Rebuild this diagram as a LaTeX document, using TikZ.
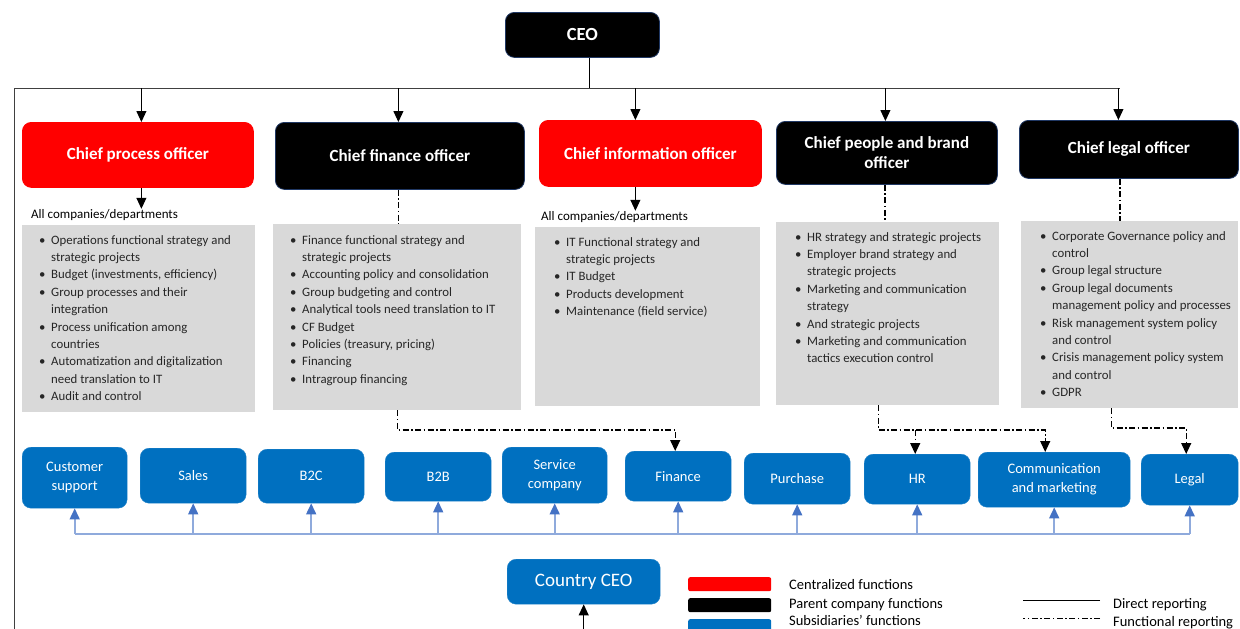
\documentclass[tikz,border=0pt]{standalone}
\usepackage{fontspec}
\setmainfont{Carlito}
\usepackage{xcolor}
\usepackage{tikz}
\usetikzlibrary{arrows.meta}
\usetikzlibrary{calc,positioning}
\definecolor{chiefRed}{RGB}{255,0,0}
\definecolor{subBlue}{RGB}{0,112,192}
\definecolor{listGrey}{RGB}{217,217,217}
\definecolor{edgeBlue}{RGB}{32,56,100}
\definecolor{upLine}{RGB}{143,170,220}
\definecolor{upHead}{RGB}{68,114,196}
\newcommand{\bul}{\makebox[12pt][l]{\textbullet}}
\newcommand{\cnt}{\hspace*{12pt}}
\tikzset{%
  >={Triangle[width=10pt,length=11pt]},
  % Specifications for style of nodes:
  base/.style = {rectangle, rounded corners=9pt, anchor=north west,
    text centered, align=center, inner sep=2pt},
  chief/.style = {base, draw=edgeBlue, fill=black, text=white, line width=0.8pt,
    font=\fontsize{17}{20}\selectfont\bfseries},
  central/.style = {chief, draw=chiefRed, fill=chiefRed},
  subsid/.style = {base, fill=subBlue, draw=subBlue!85!white, text=white,
    font=\fontsize{14.5}{19}\selectfont},
  tasks/.style = {rectangle, fill=listGrey, anchor=north west},
  taskText/.style = {anchor=north west, align=left, inner sep=0pt,
    font=\fontsize{12.8}{17.4}\selectfont, text=black!85},
  allText/.style = {anchor=base west, inner sep=0pt, font=\fontsize{13}{15}\selectfont},
  % Specifications for style of lines:
  direct/.style = {line width=1pt},
  functional/.style = {line width=1.2pt, dash pattern=on 6pt off 2.5pt on 1.5pt off 2.5pt},
  upArrow/.style = {draw=upLine, line width=1.6pt,
    -{Triangle[width=10pt,length=11pt,color=upHead]}},
  swatch/.style = {rectangle, rounded corners=2pt, minimum width=83pt,
    anchor=north west, inner sep=0pt},
  legText/.style = {anchor=base west, inner sep=0pt, font=\fontsize{14.5}{17}\selectfont},
}

\begin{document}
\begin{tikzpicture}[x=1pt, y=-1pt]
  \useasboundingbox (0,0) rectangle (1240,629);
  \clip (0,0) rectangle (1240,629);
  % Specification of nodes (position, etc.)
  \node(CEO)[chief, minimum width=154pt, minimum height=45pt,
    font=\fontsize{18.5}{20}\selectfont\bfseries] at (505,12) {CEO};
  \node(CPO)[central, minimum width=231pt, minimum height=65pt] at (22,122) {Chief process officer};
  \node(CFO)[chief, minimum width=249pt, minimum height=67pt] at (275,122) {Chief finance officer};
  \node(CIO)[central, minimum width=222pt, minimum height=66pt] at (539,120) {Chief information officer};
  \node(CPBO)[chief, minimum width=221pt, minimum height=63pt] at (776,121) {Chief people and brand\\officer};
  \node(CLO)[chief, minimum width=219pt, minimum height=58pt] at (1019,120) {Chief legal officer};

  \node(allCPO)[allText] at (31,218) {All companies/departments};
  \node(allCIO)[allText] at (541,220) {All companies/departments};

  \node(listCPO)[tasks, minimum width=233pt, minimum height=187pt] at (22,225) {};
  \node(listCFO)[tasks, minimum width=248pt, minimum height=186pt] at (273,224) {};
  \node(listCIO)[tasks, minimum width=225pt, minimum height=179pt] at (535,227) {};
  \node(listCPBO)[tasks, minimum width=223pt, minimum height=183pt] at (776,222) {};
  \node(listCLO)[tasks, minimum width=217pt, minimum height=187pt] at (1021,221) {};

  \node(txtCPO)[taskText] at ([xshift=17pt,yshift=-10pt]listCPO.north west) {%
    \bul Operations functional strategy and\\ \cnt strategic projects\\
    \bul Budget (investments, efficiency)\\
    \bul Group processes and their\\ \cnt integration\\
    \bul Process unification among\\ \cnt countries\\
    \bul Automatization and digitalization\\ \cnt need translation to IT\\
    \bul Audit and control};
  \node(txtCFO)[taskText] at ([xshift=17pt,yshift=-11pt]listCFO.north west) {%
    \bul Finance functional strategy and\\ \cnt strategic projects\\
    \bul Accounting policy and consolidation\\
    \bul Group budgeting and control\\
    \bul Analytical tools need translation to IT\\
    \bul CF Budget\\
    \bul Policies (treasury, pricing)\\
    \bul Financing\\
    \bul Intragroup financing};
  \node(txtCIO)[taskText] at ([xshift=19pt,yshift=-10pt]listCIO.north west) {%
    \bul IT Functional strategy and\\ \cnt strategic projects\\
    \bul IT Budget\\
    \bul Products development\\
    \bul Maintenance (field service)};
  \node(txtCPBO)[taskText] at ([xshift=19pt,yshift=-10pt]listCPBO.north west) {%
    \bul HR strategy and strategic projects\\
    \bul Employer brand strategy and\\ \cnt strategic projects\\
    \bul Marketing and communication\\ \cnt strategy\\
    \bul And strategic projects\\
    \bul Marketing and communication\\ \cnt tactics execution control};
  \node(txtCLO)[taskText] at ([xshift=19pt,yshift=-10pt]listCLO.north west) {%
    \bul Corporate Governance policy and\\ \cnt control\\
    \bul Group legal structure\\
    \bul Group legal documents\\ \cnt management policy and processes\\
    \bul Risk management system policy\\ \cnt and control\\
    \bul Crisis management policy system\\ \cnt and control\\
    \bul GDPR};

  \node(CustSup)[subsid, minimum width=105pt, minimum height=61pt] at (22,447) {Customer\\support};
  \node(Sales)[subsid, minimum width=106pt, minimum height=55pt] at (140,448) {Sales};
  \node(BtoC)[subsid, minimum width=106pt, minimum height=54pt] at (258,449) {B2C};
  \node(BtoB)[subsid, minimum width=106pt, minimum height=49pt] at (385,452) {B2B};
  \node(ServCo)[subsid, minimum width=105pt, minimum height=56pt] at (502,447) {Service\\company};
  \node(Finance)[subsid, minimum width=106pt, minimum height=50pt] at (625,451) {Finance};
  \node(Purchase)[subsid, minimum width=106pt, minimum height=51pt] at (744,453) {Purchase};
  \node(HR)[subsid, minimum width=106pt, minimum height=50pt] at (864,454) {HR};
  \node(ComMkt)[subsid, minimum width=152pt, minimum height=55pt] at (978,452) {Communication\\and marketing};
  \node(Legal)[subsid, minimum width=97pt, minimum height=51pt] at (1141,454) {Legal};
  \node(CountryCEO)[subsid, minimum width=153pt, minimum height=45pt,
    font=\fontsize{19}{22}\selectfont] at (507,559) {Country CEO};

  % Direct reporting lines
  \coordinate(busL) at (14,88);
  \coordinate(busR) at (1120,88);
  \coordinate(hub) at (589,88);
  \coordinate(baseL) at (14,640);
  \draw[direct] (CEO.south -| hub) -- (hub);
  \draw[direct, black!75] (baseL) -- (busL) -- (busR);
  \draw[direct,->] ([xshift=3.5pt]CPO.north |- busL) -- ([xshift=3.5pt]CPO.north);
  \draw[direct,->] ([xshift=-1.5pt]CFO.north |- busL) -- ([xshift=-1.5pt]CFO.north);
  \draw[direct,->] ([xshift=-15pt]CIO.north |- busL) -- ([xshift=-15pt]CIO.north);
  \draw[direct,->] ([xshift=-1.5pt]CPBO.north |- busL) -- ([xshift=-1.5pt]CPBO.north);
  \draw[direct,->] ([xshift=-10.5pt]CLO.north |- busL) -- ([xshift=-10.5pt]CLO.north);
  \draw[direct,->] ([xshift=3.5pt]CPO.south) -- ([xshift=3.5pt]CPO.south |- allCPO.north);
  \draw[direct,->] ([xshift=-15pt]CIO.south) -- ([xshift=-15pt]CIO.south |- allCIO.north);
  \coordinate(cceoIn) at (581,640);
  \draw[direct,->] (CountryCEO.south |- cceoIn) -- (CountryCEO.south);

  % Functional reporting lines
  \draw[functional] ([xshift=-1.5pt]CFO.south) -- ([xshift=-1.5pt]CFO.south |- listCFO.north);
  \draw[functional] ([xshift=-2pt]CPBO.south) -- ([xshift=-2pt]CPBO.south |- listCPBO.north);
  \draw[functional] ([xshift=-9pt]CLO.south) -- ([xshift=-9pt]CLO.south |- listCLO.north);
  \coordinate(fbA) at (0,430);
  \coordinate(fbB) at (0,428);
  \draw[functional,->] (listCFO.south) -- (listCFO.south |- fbA)
    -- ([xshift=-3pt]Finance.north |- fbA) -- ([xshift=-3pt]Finance.north);
  \draw[functional,->] ([xshift=-9.5pt]listCPBO.south) -- ([xshift=-9.5pt]listCPBO.south |- fbA)
    -- ([xshift=-9pt]ComMkt.north |- fbA) -- ([xshift=-9pt]ComMkt.north);
  \draw[functional,->] ([xshift=-2pt]HR.north |- fbA) -- ([xshift=-2pt]HR.north);
  \draw[functional,->] ([xshift=-18.5pt]listCLO.south) -- ([xshift=-18.5pt]listCLO.south |- fbB)
    -- ([xshift=-3.5pt]Legal.north |- fbB) -- ([xshift=-3.5pt]Legal.north);

  % Subsidiaries reporting to country CEO
  \coordinate(upBus) at (0,534);
  \draw[upLine, line width=1.6pt] (CustSup.south |- upBus) -- (Legal.south |- upBus);
  \foreach \n in {CustSup,Sales,BtoC,BtoB,ServCo,Finance,Purchase,HR,ComMkt,Legal}
    \draw[upArrow] (\n.south |- upBus) -- (\n.south);

  % Legend
  \node(swCentral)[swatch, fill=chiefRed, minimum height=14pt] at (688,577) {};
  \node(swParent)[swatch, fill=black, minimum height=14pt] at (688,598) {};
  \node(swSubs)[swatch, fill=subBlue, minimum height=16pt] at (688,619) {};
  \node(legCentral)[legText] at (789,589) {Centralized functions};
  \node(legParent)[legText] at (789,608) {Parent company functions};
  \node(legSubs)[legText] at (789,625) {Subsidiaries’ functions};
  \node(legDirect)[legText] at (1113,608) {Direct reporting};
  \node(legFunc)[legText] at (1113,626) {Functional reporting};
  \draw[direct] ([xshift=-13pt,yshift=4pt]legDirect.west) -- ++(-77,0);
  \draw[functional, line width=1pt] ([xshift=-13pt,yshift=4pt]legFunc.west) -- ++(-77,0);
\end{tikzpicture}
\end{document}
